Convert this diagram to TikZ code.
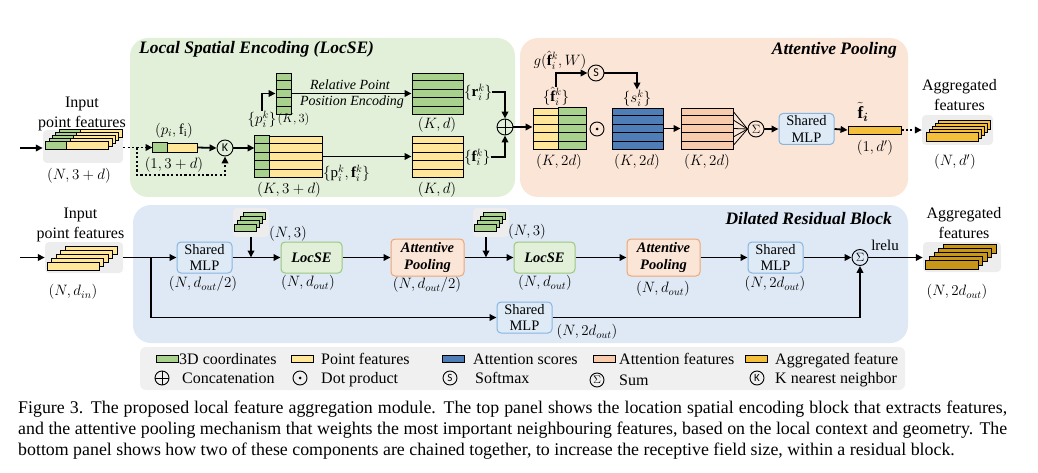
\RequirePackage{fix-cm}
\documentclass[tikz,border=0pt]{standalone}
\usepackage{amsmath}
\usepackage{fontspec}
\setmainfont{Liberation Serif}
\newfontfamily\opfont{Carlito}
\usetikzlibrary{arrows.meta,calc,fit}

\definecolor{xyzgreen}{RGB}{169,209,142}
\definecolor{featyellow}{RGB}{255,230,153}
\definecolor{scoreblue}{RGB}{78,125,183}
\definecolor{attpink}{RGB}{248,203,173}
\definecolor{agggold}{RGB}{244,192,60}
\definecolor{aggdark}{RGB}{200,150,25}
\definecolor{locsebg}{RGB}{226,240,217}
\definecolor{poolbg}{RGB}{251,229,214}
\definecolor{drbbg}{RGB}{222,233,245}
\definecolor{stackgrey}{RGB}{237,237,237}
\definecolor{legendgrey}{RGB}{240,240,240}
\definecolor{mlpfill}{RGB}{222,235,247}
\definecolor{mlpline}{RGB}{135,180,225}
\definecolor{locseline}{RGB}{155,200,125}
\definecolor{poolline}{RGB}{240,165,115}

\tikzset{
  every node/.style={inner sep=0pt},
  lbl/.style={font=\fontsize{16}{20}\selectfont, align=center},
  legtxt/.style={font=\fontsize{16}{20}\selectfont, anchor=base west},
  dimlbl/.style={font=\fontsize{15}{18}\selectfont},
  smalldim/.style={font=\fontsize{12.5}{14}\selectfont},
  rppe/.style={font=\fontsize{14}{16}\selectfont\itshape},
  paneltitle/.style={font=\fontsize{17.5}{20}\selectfont\bfseries\itshape},
  captionline/.style={font=\fontsize{17.85}{21}\selectfont, anchor=base west},
  flow/.style={line width=1.8pt, -{Triangle[length=7pt,width=6.5pt]}},
  dotflow/.style={flow, dash pattern=on 2.2pt off 2.2pt},
  fanline/.style={line width=0.8pt},
  opcirc/.style={circle, draw, line width=0.9pt, minimum size=16pt, font=\opfont\fontsize{12}{12}\selectfont},
  legop/.style={opcirc, minimum size=14pt, font=\opfont\fontsize{11}{11}\selectfont},
  gridcell/.style={draw, line width=0.9pt},
  stackbg/.style={fill=stackgrey, rounded corners=4pt},
  mlpbox/.style={draw=mlpline, fill=mlpfill, line width=1pt, rounded corners=4pt,
    minimum width=55pt, minimum height=31pt, align=center, font=\fontsize{14.5}{16.5}\selectfont},
  locsebox/.style={mlpbox, draw=locseline, fill=locsebg, minimum width=61pt,
    font=\fontsize{14.5}{16.5}\selectfont\bfseries\itshape},
  poolbox/.style={mlpbox, draw=poolline, fill=poolbg, minimum width=73pt, minimum height=37pt,
    font=\fontsize{14.5}{16.5}\selectfont\bfseries\itshape},
  swatch/.style={draw, line width=0.8pt, minimum width=22pt, minimum height=7pt},
}

% stack of bars: #1 bars-1, #2 x, #3 y (front bar top left), #4 w, #5 h,
% #6 dx, #7 dy, #8 green part width, #9 fill
\newcommand\barstack[9]{%
  \foreach \i in {#1,...,0}{%
    \pgfmathsetmacro\bx{#2+\i*#6}%
    \pgfmathsetmacro\by{#3-\i*#7}%
    \draw[line width=0.8pt, fill=#9] (\bx,\by) rectangle ++(#4,#5);
    \ifdim #8pt>0pt \draw[line width=0.8pt, fill=xyzgreen] (\bx,\by) rectangle ++(#8,#5);\fi
  }%
}
% feature grid: name, left, top, right, bottom, fill
\newcommand\featgrid[6]{%
  \node[gridcell, fill=#6, fit={(#2,#3) (#4,#5)}] (#1) {};
}
\newcommand\gridrows[1]{%
  \foreach \r in {1,...,4}{%
    \draw[line width=0.9pt] ($(#1.north west)!\r/5!(#1.south west)$) -- ($(#1.north east)!\r/5!(#1.south east)$);
  }%
}

\begin{document}
\begin{tikzpicture}[x=1pt,y=-1pt]
\useasboundingbox (0,0) rectangle (1038,473);

% panels
\fill[locsebg, rounded corners=18pt] (130,38) rectangle (515,197);
\fill[poolbg, rounded corners=18pt] (520,38) rectangle (908,197);
\fill[drbbg, rounded corners=18pt] (133,205) rectangle (908,343);
\fill[legendgrey, rounded corners=6pt] (140,347) rectangle (905,390);

\node[paneltitle, anchor=west] (tlocse) at (139,49) {Local Spatial Encoding (LocSE)};
\node[paneltitle, anchor=east] (tpool) at (897,50) {Attentive Pooling};
\node[paneltitle, anchor=east] (tdrb) at (892,219) {Dilated Residual Block};

%%% top panel: LocSE
\node[stackbg, fit={(43,130) (123,163)}] (inbox) {};
\barstack{4}{45.6}{141.7}{63}{7.7}{3.4}{3}{21}{featyellow}
\node[lbl] (intxt) at (82,114) {Input\\point features};
\node[dimlbl] (indim) at (79,176) {$(N,3+d)$};
\coordinate (inA) at (20,148);
\draw[flow] (inA) -- (inA -| inbox.west);

\node[gridcell, fill=featyellow, fit={(153,143) (197,152)}] (pf) {};
\draw[gridcell, fill=xyzgreen] (pf.north west) rectangle ($(pf.south west)+(15,0)$);
\node[dimlbl] (pflbl) at (174,131) {$(p_i,\mathrm{f}_\mathrm{i})$};
\node[dimlbl] (pfdim) at (174,165) {$(1,3+d)$};
\node[opcirc] (knn) at (225,148) {K};
\draw[dotflow] (inbox.east |- pf.west) -- (pf.west);
\coordinate (tap) at (137,147.5);
\coordinate (loop) at (137,175);
\draw[dotflow] (tap) -- (loop) -| (knn.south);
\draw[flow] (pf.east) -- (knn.west);

\featgrid{kgrid}{255}{136}{322}{177}{featyellow}
\draw[gridcell, fill=xyzgreen] (kgrid.north west) rectangle ($(kgrid.south west)+(15,0)$);
\gridrows{kgrid}
\draw[flow] (knn.east) -- (knn.east -| kgrid.west);

\featgrid{pgrid}{276}{73}{291}{114}{xyzgreen}
\gridrows{pgrid}
\node[dimlbl] (pklbl) at (262,119) {$\{p_i^k\}$};
\node[smalldim, anchor=west] (pkdim) at ([xshift=1pt]pklbl.east) {$(K,3)$};
\draw[flow] (pklbl.north) |- (pgrid.west);

\featgrid{rgrid}{412}{73}{463}{114}{xyzgreen}
\gridrows{rgrid}
\featgrid{fgrid}{412}{136}{463}{177}{featyellow}
\gridrows{fgrid}
\draw[flow] (pgrid.east) -- (rgrid.west);
\draw[flow] (kgrid.east) -- (fgrid.west);
\node[rppe] (rppe1) at (350,85) {Relative Point};
\node[rppe] (rppe2) at (352,102) {Position Encoding};
\node[dimlbl] (kddim1) at (437,125) {$(K,d)$};
\node[dimlbl] (kddim2) at (437,190) {$(K,d)$};
\node[dimlbl] (kgdim) at (289,190) {$(K,3+d)$};
\node[dimlbl, anchor=west] (pfklbl) at (323,173) {$\{\mathrm{p}_i^k,\mathbf{f}_i^k\}$};
\node[dimlbl, anchor=west] (rlbl) at (464,92) {$\{\mathbf{r}_i^k\}$};
\node[dimlbl, anchor=west] (flbl) at (464,157) {$\{\mathbf{f}_i^k\}$};
\node[opcirc] (cat) at (505,127) {};
\draw[line width=0.9pt] (cat.north) -- (cat.south) (cat.west) -- (cat.east);
\draw[flow] (rlbl.east) -| (cat.north);
\draw[flow] (flbl.east) -| (cat.south);

%%% top panel: attentive pooling
\featgrid{hgrid}{533}{108}{586}{149}{featyellow}
\draw[gridcell, fill=xyzgreen] ($(hgrid.north west)+(26,0)$) rectangle (hgrid.south east);
\gridrows{hgrid}
\draw[flow] (cat.east) -- (cat.east -| hgrid.west);
\node[dimlbl] (hlbl) at (556,96) {$\{\hat{\mathbf{f}}_i^k\}$};
\node[dimlbl] (glbl) at (560,60) {$g(\hat{\mathbf{f}}_i^k,W)$};
\node[opcirc] (smax) at (596,73) {S};
\draw[flow] (hlbl.north) |- (smax.west);
\node[dimlbl] (slbl) at (637,98) {$\{s_i^k\}$};
\draw[flow] (smax.east) -| (slbl.north);

\node[circle, draw, line width=0.9pt, minimum size=14pt] (dotp) at (597,129) {};
\fill (dotp.center) circle (1.5pt);
\featgrid{sgrid}{612}{108}{663}{149}{scoreblue}
\gridrows{sgrid}
\featgrid{agrid}{681}{108}{733}{149}{attpink}
\gridrows{agrid}
\draw[flow] (sgrid.east) -- (agrid.west);
\node[opcirc, font=\fontsize{12}{12}\selectfont] (tsum) at (756,129) {$\Sigma$};
\foreach \r in {1,3,5,7,9}
  \draw[fanline] ($(agrid.north east)!\r/10!(agrid.south east)$) -- (tsum.west);
\node[dimlbl] (k2d1) at (559,162) {$(K,2d)$};
\node[dimlbl] (k2d2) at (637,162) {$(K,2d)$};
\node[dimlbl] (k2d3) at (707,162) {$(K,2d)$};

\node[mlpbox] (tmlp) at (806.5,129) {Shared\\MLP};
\draw[flow] (tsum.east) -- (tmlp.west);
\node[gridcell, fill=agggold, fit={(848,126) (901,134)}] (fbar) {};
\draw[flow] (tmlp.east) -- (fbar.west);
\node[font=\fontsize{17}{20}\selectfont] (ftlbl) at (863,112) {$\tilde{\mathbf{f}}_{\boldsymbol{i}}$};
\node[dimlbl] (fbdim) at (875,148) {$(1,d')$};
\node[stackbg, fit={(922,115) (993,145)}] (aggbox) {};
\barstack{4}{926}{132}{52}{9}{3}{3}{0}{agggold}
\draw[dotflow] (fbar.east) -- (fbar.east -| aggbox.west);
\node[lbl] (aggtxt) at (959.5,95) {Aggregated\\features};
\node[dimlbl] (aggdim) at (955,162) {$(N,d')$};

%%% bottom panel: dilated residual block
\node[stackbg, fit={(45,242) (123,273)}] (inbox2) {};
\barstack{4}{47}{262}{52}{8}{4.5}{4}{0}{featyellow}
\node[lbl] (intxt2) at (80.5,225) {Input\\point features};
\node[dimlbl] (indim2) at (73,292) {$(N,d_{in})$};
\coordinate (inB) at (20,257.5);
\draw[flow] (inB) -- (inB -| inbox2.west);

\node[mlpbox] (mlpa) at (204.5,257.5) {Shared\\MLP};
\coordinate (split) at (151,257.5);
\draw[flow] (inbox2.east) -- (mlpa.west);
\node[locsebox] (lsea) at (311.5,257.5) {LocSE};
\node[stackbg, fit={(233,208) (269,237)}] (xyzbox1) {};
\barstack{3}{234}{224}{22}{7}{3}{4}{0}{xyzgreen}
\coordinate (joina) at (xyzbox1.south |- mlpa.east);
\draw[flow] (mlpa.east) -- (lsea.west);
\draw[flow] (xyzbox1.south) -- (joina);

\node[poolbox] (poola) at (427.5,257.5) {Attentive\\Pooling};
\draw[flow] (lsea.east) -- (poola.west);
\node[locsebox] (lseb) at (544.5,257.5) {LocSE};
\node[stackbg, fit={(473,208) (509,237)}] (xyzbox2) {};
\barstack{3}{474}{224}{22}{7}{3}{4}{0}{xyzgreen}
\coordinate (dropb) at ($(xyzbox2.south)+(-5,0)$);
\coordinate (joinb) at (dropb |- lseb.west);
\draw[flow] (poola.east) -- (lseb.west);
\draw[flow] (dropb) -- (joinb);

\node[poolbox] (poolb) at (663.5,257.5) {Attentive\\Pooling};
\draw[flow] (lseb.east) -- (poolb.west);
\node[mlpbox] (mlpc) at (775.5,257.5) {Shared\\MLP};
\draw[flow] (poolb.east) -- (mlpc.west);
\node[opcirc, font=\fontsize{12}{12}\selectfont] (bsum) at (860,257.5) {$\Sigma$};
\draw[flow] (mlpc.east) -- (bsum.west);
\node[mlpbox] (mlpd) at (524.5,317.5) {Shared\\MLP};
\draw[flow] (split) |- (mlpd.west);
\draw[flow] (mlpd.east) -| (bsum.south);

\node[stackbg, fit={(923,242) (1001,272)}] (aggbox2) {};
\barstack{4}{925}{260}{53}{9}{4.5}{4}{0}{aggdark}
\draw[flow] (bsum.east) -- (bsum.east -| aggbox2.west);
\node[dimlbl] (lrelu) at (885,245) {lrelu};
\node[lbl] (aggtxt2) at (964,223) {Aggregated\\features};

\node[dimlbl] (dimmlpa) at (203,284) {$(N,d_{out}/2)$};
\node[dimlbl] (dimxyz1) at (288,234) {$(N,3)$};
\node[dimlbl] (dimlsea) at (308,283) {$(N,d_{out})$};
\node[dimlbl] (dimpoola) at (427,285) {$(N,d_{out}/2)$};
\node[dimlbl] (dimxyz2) at (527,232) {$(N,3)$};
\node[dimlbl] (dimlseb) at (545,283) {$(N,d_{out})$};
\node[dimlbl] (dimpoolb) at (663,289) {$(N,d_{out})$};
\node[dimlbl] (dimmlpc) at (775,284) {$(N,2d_{out})$};
\node[dimlbl] (dimmlpd) at (587,332) {$(N,2d_{out})$};
\node[dimlbl] (dimagg2) at (957,292) {$(N,2d_{out})$};

%%% legend
\node[swatch, fill=xyzgreen] (lg1) at (167,358.5) {};
\node[legtxt] (lg1t) at (179,364) {3D coordinates};
\node[swatch, fill=featyellow] (lg2) at (302,358.5) {};
\node[legtxt] (lg2t) at (321,364) {Point features};
\node[swatch, fill=scoreblue] (lg3) at (453,358.5) {};
\node[legtxt] (lg3t) at (473,364) {Attention scores};
\node[swatch, fill=attpink] (lg4) at (604,358.5) {};
\node[legtxt] (lg4t) at (619,364) {Attention features};
\node[swatch, fill=agggold] (lg5) at (756,358.5) {};
\node[legtxt] (lg5t) at (775,364) {Aggregated feature};

\node[legop] (lgcat) at (162,378) {};
\draw[line width=0.9pt] (lgcat.north) -- (lgcat.south) (lgcat.west) -- (lgcat.east);
\node[legtxt] (lgcatt) at (182,383) {Concatenation};
\node[legop] (lgdot) at (300,378) {};
\fill (lgdot.center) circle (1.5pt);
\node[legtxt] (lgdott) at (321,383) {Dot product};
\node[legop] (lgsmax) at (450,378) {S};
\node[legtxt] (lgsmaxt) at (475,383) {Softmax};
\node[legop, font=\fontsize{11}{11}\selectfont] (lgsum) at (597,380) {$\Sigma$};
\node[legtxt] (lgsumt) at (619,385) {Sum};
\node[legop] (lgknn) at (757,378) {K};
\node[legtxt] (lgknnt) at (775,383) {K nearest neighbor};

%%% caption
\node[captionline] (cap1) at (18,413) {\makebox[989pt][s]{Figure 3. The proposed local feature aggregation module. The top panel shows the location spatial encoding block that extracts features,}};
\node[captionline] (cap2) at (18,434) {\makebox[989pt][s]{and the attentive pooling mechanism that weights the most important neighbouring features, based on the local context and geometry. The}};
\node[captionline] (cap3) at (18,455) {bottom panel shows how two of these components are chained together, to increase the receptive field size, within a residual block.};

\end{tikzpicture}
\end{document}
